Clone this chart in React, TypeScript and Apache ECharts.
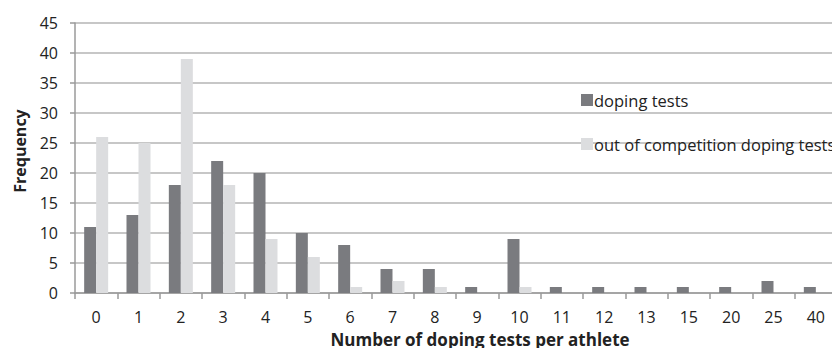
import React, { useEffect, useRef } from "react";
import * as echarts from "echarts";

const categories = ["0", "1", "2", "3", "4", "5", "6", "7", "8", "9", "10", "11", "12", "13", "15", "20", "25", "40"];
const dopingTests = [11, 13, 18, 22, 20, 10, 8, 4, 4, 1, 9, 1, 1, 1, 1, 1, 2, 1];
const outOfCompetition = [26, 25, 39, 18, 9, 6, 1, 2, 1, 0, 1, 0, 0, 0, 0, 0, 0, 0];
const yTicks = { min: 0, max: 45, interval: 5 };

const FONT = "'Open Sans', 'Liberation Sans', sans-serif";

export default function App() {
  const ref = useRef<HTMLDivElement>(null);
  useEffect(() => {
    if (!ref.current) return;
    const chart = echarts.init(ref.current, null, { renderer: "svg" });
    chart.setOption({
      animation: false,
      backgroundColor: "#ffffff",
      textStyle: { fontFamily: FONT },
      grid: { left: 75, right: 3, top: 23, bottom: 63, containLabel: false },
      legend: {
        orient: "vertical",
        left: 576,
        top: 85,
        itemGap: 24,
        itemWidth: 12,
        itemHeight: 12,
        icon: "rect",
        textStyle: { fontFamily: FONT, fontSize: 16.5, lineHeight: 20, color: "#222", padding: [0, 0, 0, -4] },
        data: ["doping tests", "out of competition doping tests"],
      },
      xAxis: {
        type: "category",
        data: categories,
        axisLine: { lineStyle: { color: "#9a9a9a", width: 1.5 } },
        axisTick: { show: true, alignWithLabel: false, length: 6, lineStyle: { color: "#9a9a9a", width: 1.5 } },
        axisLabel: { color: "#222", fontSize: 16, margin: 16, fontFamily: FONT },
        splitLine: { show: false },
      },
      yAxis: {
        type: "value",
        min: yTicks.min,
        max: yTicks.max,
        interval: yTicks.interval,
        axisLine: { show: true, lineStyle: { color: "#9a9a9a", width: 1.5 } },
        axisTick: { show: true, length: 5, lineStyle: { color: "#9a9a9a", width: 1.5 } },
        axisLabel: { color: "#222", fontSize: 16, margin: 17, fontFamily: FONT },
        splitLine: { show: true, lineStyle: { color: "#b4b4b4", width: 1.5 } },
      },
      graphic: [
        {
          type: "text",
          x: 20,
          y: 151,
          rotation: Math.PI / 2,
          style: {
            text: "Frequency",
            font: `bold 16px ${FONT}`,
            fill: "#222",
            align: "center",
            verticalAlign: "middle",
          },
        },
        {
          type: "text",
          x: 480,
          y: 339,
          style: {
            text: "Number of doping tests per athlete",
            font: `bold 17px ${FONT}`,
            fill: "#222",
            align: "center",
            verticalAlign: "middle",
          },
        },
      ],
      series: [
        {
          name: "doping tests",
          type: "bar",
          data: dopingTests,
          barWidth: 12,
          barGap: "0%",
          itemStyle: { color: "#7a7b7f" },
        },
        {
          name: "out of competition doping tests",
          type: "bar",
          data: outOfCompetition,
          barWidth: 12,
          itemStyle: { color: "#dcdddf" },
        },
      ],
    });
    return () => chart.dispose();
  }, []);
  return <div ref={ref} style={{ width: 840, height: 356, margin: -8 }} />;
}
